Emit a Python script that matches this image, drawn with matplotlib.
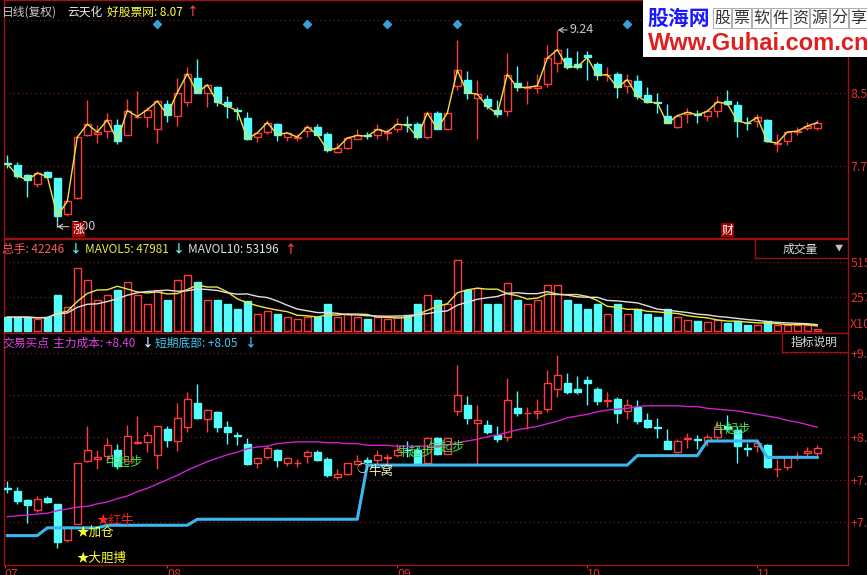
import matplotlib
matplotlib.use('Agg')
import matplotlib.pyplot as plt
from matplotlib.patches import Rectangle
import numpy as np
import pandas as pd

plt.rcParams['font.family'] = ['Noto Sans CJK SC', 'DejaVu Sans']

# daily bars (82 trading days, Jul - Nov)
opens = [7.69, 7.66, 7.55, 7.44, 7.58, 7.51, 7.09, 7.28, 8.01, 8.03,
         8.06, 8.13, 8.01, 8.22, 8.23, 8.08, 8.38, 8.24, 8.40, 8.68,
         8.50, 8.58, 8.40, 8.31, 8.21, 7.99, 8.05, 8.14, 7.99, 7.98,
         8.06, 8.11, 8.03, 7.82, 7.86, 7.97, 8.02, 8.02, 8.04, 8.08,
         8.14, 8.14, 7.99, 8.27, 8.09, 8.59, 8.66, 8.45, 8.43, 8.31,
         8.29, 8.62, 8.56, 8.56, 8.61, 8.85, 8.91, 8.84, 8.95, 8.84,
         8.71, 8.73, 8.59, 8.64, 8.48, 8.40, 8.24, 8.11, 8.26, 8.26,
         8.24, 8.29, 8.41, 8.37, 8.16, 8.18, 8.19, 7.91, 7.94, 8.05,
         8.10, 8.10]
highs = [7.78, 7.70, 7.56, 7.60, 7.60, 7.51, 7.24, 7.99, 8.42, 8.13,
         8.27, 8.20, 8.43, 8.53, 8.34, 8.42, 8.42, 8.68, 8.81, 8.90,
         8.61, 8.59, 8.47, 8.34, 8.28, 8.05, 8.19, 8.15, 8.05, 8.03,
         8.13, 8.14, 8.05, 7.92, 7.99, 8.08, 8.05, 8.14, 8.09, 8.21,
         8.24, 8.17, 8.29, 8.29, 8.27, 9.12, 8.76, 8.66, 8.48, 8.42,
         8.97, 8.82, 8.64, 8.73, 9.06, 9.24, 9.03, 9.00, 9.00, 8.87,
         8.81, 8.75, 8.73, 8.72, 8.57, 8.51, 8.38, 8.26, 8.33, 8.31,
         8.32, 8.47, 8.54, 8.41, 8.22, 8.26, 8.20, 8.03, 8.06, 8.11,
         8.17, 8.19]
lows = [7.63, 7.51, 7.29, 7.41, 7.52, 7.00, 7.07, 7.27, 8.00, 7.92,
        7.98, 7.91, 8.01, 8.21, 8.11, 7.92, 8.17, 8.12, 8.35, 8.50,
        8.34, 8.35, 8.21, 8.19, 7.96, 7.93, 8.03, 7.94, 7.95, 7.94,
        7.99, 8.01, 7.82, 7.80, 7.85, 7.97, 7.97, 7.97, 7.96, 8.05,
        8.05, 7.97, 7.97, 8.08, 8.09, 8.54, 8.44, 7.97, 8.32, 8.23,
        8.24, 8.53, 8.38, 8.50, 8.58, 8.75, 8.79, 8.79, 8.66, 8.66,
        8.64, 8.45, 8.50, 8.44, 8.39, 8.27, 8.15, 8.10, 8.16, 8.15,
        8.18, 8.23, 8.36, 7.99, 8.07, 8.11, 7.93, 7.82, 7.90, 8.02,
        8.07, 8.07]
closes = [7.68, 7.54, 7.49, 7.57, 7.53, 7.07, 7.24, 7.99, 8.14, 8.05,
          8.19, 7.95, 8.30, 8.23, 8.31, 8.41, 8.25, 8.51, 8.73, 8.51,
          8.60, 8.40, 8.35, 8.30, 7.97, 8.04, 8.16, 8.02, 8.04, 7.99,
          8.11, 8.02, 7.84, 7.86, 7.98, 8.01, 8.00, 8.08, 8.05, 8.14,
          8.13, 7.99, 8.27, 8.09, 8.27, 8.77, 8.51, 8.49, 8.35, 8.26,
          8.72, 8.57, 8.57, 8.59, 8.91, 9.01, 8.81, 8.81, 8.92, 8.71,
          8.72, 8.57, 8.66, 8.47, 8.40, 8.39, 8.15, 8.24, 8.28, 8.25,
          8.29, 8.40, 8.38, 8.18, 8.15, 8.22, 7.94, 7.92, 8.05, 8.06,
          8.12, 8.16]
volumes = [103000, 103000, 103000, 88000, 103000, 265000, 177000, 471000, 383000, 235000,
           272000, 309000, 368000, 272000, 199000, 309000, 235000, 383000, 420000, 368000,
           235000, 235000, 199000, 162000, 221000, 125000, 147000, 125000, 103000, 88000,
           103000, 103000, 199000, 103000, 125000, 103000, 88000, 103000, 88000, 103000,
           118000, 199000, 265000, 235000, 199000, 530000, 309000, 324000, 199000, 199000,
           360000, 235000, 199000, 235000, 346000, 346000, 235000, 199000, 162000, 199000,
           125000, 199000, 125000, 162000, 125000, 103000, 162000, 103000, 80000, 75000,
           70000, 85000, 60000, 75000, 42000, 42000, 72000, 42000, 42000, 42000,
           42000, 17000]
# 主力成本 (magenta) and 短期底部 (blue step) indicator lines
main_cost = [7.36, 7.37, 7.38, 7.39, 7.40, 7.43, 7.45, 7.47, 7.48, 7.51,
             7.53, 7.57, 7.60, 7.65, 7.69, 7.74, 7.79, 7.84, 7.90, 7.95,
             8.00, 8.04, 8.08, 8.11, 8.15, 8.17, 8.18, 8.21, 8.22, 8.23,
             8.23, 8.23, 8.22, 8.22, 8.21, 8.21, 8.19, 8.19, 8.19, 8.18,
             8.18, 8.18, 8.18, 8.18, 8.19, 8.22, 8.24, 8.26, 8.29, 8.31,
             8.34, 8.37, 8.39, 8.41, 8.44, 8.47, 8.51, 8.53, 8.55, 8.58,
             8.60, 8.61, 8.62, 8.64, 8.65, 8.65, 8.65, 8.65, 8.64, 8.64,
             8.62, 8.61, 8.60, 8.59, 8.57, 8.55, 8.53, 8.51, 8.48, 8.46,
             8.43, 8.40]
short_bottom = [7.14, 7.14, 7.14, 7.14, 7.23, 7.23, 7.23, 7.23, 7.23, 7.23,
                7.26, 7.26, 7.26, 7.26, 7.26, 7.26, 7.26, 7.26, 7.26, 7.33,
                7.33, 7.33, 7.33, 7.33, 7.33, 7.33, 7.33, 7.33, 7.33, 7.33,
                7.33, 7.33, 7.33, 7.33, 7.33, 7.33, 7.96, 7.96, 7.96, 7.96,
                7.96, 7.96, 7.96, 7.96, 7.96, 7.96, 7.96, 7.96, 7.96, 7.96,
                7.96, 7.96, 7.96, 7.96, 7.96, 7.96, 7.96, 7.96, 7.96, 7.96,
                7.96, 7.96, 7.96, 8.07, 8.07, 8.07, 8.07, 8.07, 8.07, 8.07,
                8.24, 8.24, 8.24, 8.24, 8.24, 8.24, 8.05, 8.05, 8.05, 8.05,
                8.05, 8.05]
month_labels = ['07', '08', '09', '10', '11']
month_first_bar = [0.75, 17, 40, 59, 76]
diamond_bars = [16, 31, 39, 46, 63]

W, H = 867, 575
BG = 'black'
RED = '#ff3c3c'
CYAN = '#54fcfc'
FRAME = '#a01010'
GRID = '#8c1c1c'
ARROW = dict(arrowstyle='->,head_length=0.35,head_width=0.2', color='#c8c8c8', lw=0.8,
             shrinkA=0, shrinkB=0)

n = len(closes)
x = np.arange(1, n + 1)
up = np.array(closes) > np.array(opens)
tops = np.maximum(opens, closes)
bots = np.minimum(opens, closes)
edge_cols = [RED if u else CYAN for u in up]
face_cols = [BG if u else CYAN for u in up]

fig = plt.figure(figsize=(W / 100, H / 100), dpi=100, facecolor=BG)


def px_axes(top, bottom):
    return fig.add_axes([4 / W, 1 - bottom / H, 844 / W, (bottom - top) / H])


def ftext(px, py, s, **kw):
    kw.setdefault('fontsize', 8.5)
    fig.text(px / W, 1 - py / H, s, va='center', **kw)


def style(ax, ticks, labels, ylim):
    ax.set_facecolor(BG)
    ax.set_xlim(0.67, 85.07)
    ax.set_ylim(*ylim)
    for s in ax.spines.values():
        s.set_color(FRAME)
        s.set_linewidth(1)
    ax.set_yticks(ticks)
    ax.set_yticklabels(labels)
    ax.yaxis.tick_right()
    ax.tick_params(axis='y', length=0, pad=2, labelcolor='#e83030', labelsize=9)
    ax.set_xticks([])
    for t in ticks:
        ax.axhline(t, color=GRID, lw=0.8, ls=(0, (1, 3)), zorder=0)


def draw_candles(ax):
    ax.vlines(x, tops, highs, colors=edge_cols, lw=1, zorder=2)
    ax.vlines(x, lows, bots, colors=edge_cols, lw=1, zorder=2)
    ax.bar(x, np.maximum(tops - bots, 0.004), bottom=bots, width=0.7,
           color=face_cols, edgecolor=edge_cols, linewidth=1, zorder=3)


# ---- price panel
ax1 = px_axes(0, 238)
style(ax1, [9.351, 8.505, 7.653], ['', '8.53', '7.70'], (6.813, 9.59))
draw_candles(ax1)
ax1.plot(x, closes, color='#f0e040', lw=1, zorder=4)
ax1.plot(diamond_bars, [9.31] * len(diamond_bars), 'D', color='#3aa0d8', ms=4.5, zorder=5)

imax = int(np.argmax(highs))
ax1.annotate(f'{highs[imax]:.2f}', xy=(x[imax] + 0.05, highs[imax]), xytext=(x[imax] + 1.25, highs[imax]),
             color='#c8c8c8', fontsize=9, va='center', ha='left', arrowprops=ARROW)
imin = int(np.argmin(lows))
ax1.vlines(x[imin], 6.945, lows[imin], color='#c8c8c8', lw=1)
ax1.annotate(f'{lows[imin]:.2f}', xy=(x[imin], 6.945), xytext=(x[imin] + 1.45, 6.945),
             color='#c8c8c8', fontsize=9, va='center', ha='left', arrowprops=ARROW)
ax1.text(8.1, 6.91, '涨', color='white', fontsize=8.5, ha='center', va='center', zorder=6,
         bbox=dict(facecolor='#a00000', edgecolor='none', pad=0.6))
ax1.text(73.0, 6.906, '财', color='white', fontsize=8.5, ha='center', va='center', zorder=6,
         bbox=dict(facecolor='#a00000', edgecolor='none', pad=0.6))

# ---- volume panel
ax2 = px_axes(239, 333)
style(ax2, [515000, 257500], ['51500', '25750'], (-14928, 686688))
ax2.bar(x, volumes, width=0.7, color=face_cols, edgecolor=edge_cols, linewidth=1, zorder=3)
vol = pd.Series(volumes)
ax2.plot(x, vol.rolling(5, min_periods=1).mean(), color='#e8e840', lw=1, zorder=4)
ax2.plot(x, vol.rolling(10, min_periods=1).mean(), color='#e0e0e0', lw=1, zorder=4)

# ---- indicator panel
ax3 = px_axes(333, 565)
style(ax3, [9.263, 8.775, 8.287, 7.787, 7.298], ['+9.26', '+8.78', '+8.29', '+7.79', '+7.30'],
      (6.798, 9.496))
draw_candles(ax3)
ax3.plot(x, main_cost, color='#d020d0', lw=1, zorder=4)
ax3.plot(x, short_bottom, color='#38b8f0', lw=2.2, zorder=4)
ax3.set_xticks(month_first_bar)
ax3.set_xticklabels(month_labels)
ax3.tick_params(axis='x', colors='#e03030', length=2, pad=0, labelsize=9)
for lbl in ax3.get_xticklabels():
    lbl.set_ha('left')

for px, py in [(12.7, 8.00), (41.8, 8.11), (44.9, 8.17), (73.5, 8.38)]:
    ax3.text(px, py, '牛起步', color='#48e048', fontsize=9, ha='center', va='center', zorder=6)
ax3.text(36.5, 7.91, '○', color='#f0f0c0', fontsize=8, ha='center', va='center', zorder=6)
ax3.text(37.1, 7.89, '牛窝', color='#f0f0c0', fontsize=9, ha='left', va='center', zorder=6)
ax3.text(9.9, 7.32, '★红牛', color='#ff2020', fontsize=9, ha='left', va='center', zorder=6)
ax3.text(7.9, 7.18, '★加仓', color='#ffff30', fontsize=9, ha='left', va='center', zorder=6)
ax3.text(7.9, 6.87, '★大胆搏', color='#ffff30', fontsize=9, ha='left', va='center', zorder=6)

# ---- headers
ftext(2, 12, '日线(复权)', color='#c8c8c8')
ftext(67, 12, '云天化', color='#e8e8e8')
ftext(107, 12, '好股票网: 8.07', color='#ffff40')
ftext(187, 12, '↑', color=RED, fontweight='bold')

ftext(2, 249, '总手: 42246', color='#ff5a5a')
ftext(70, 249, '↓', color=CYAN, fontweight='bold')
ftext(85, 249, 'MAVOL5: 47981', color='#e8e840')
ftext(173, 249, '↓', color=CYAN, fontweight='bold')
ftext(188, 249, 'MAVOL10: 53196', color='#e0e0e0')
ftext(285, 249, '↑', color=RED, fontweight='bold')
ftext(850, 325, 'X10', color='#e83030', fontsize=9)

ftext(2, 343, '交易买点', color='#e040e0')
ftext(53, 343, '主力成本: +8.40', color='#e040e0')
ftext(142, 343, '↓', color='#c0f0ff', fontweight='bold')
ftext(155, 343, '短期底部: +8.05', color='#40c8f0')
ftext(245, 343, '↓', color='#40c8f0', fontweight='bold')

# panel buttons
fig.add_artist(plt.Line2D([755 / W, 755 / W], [1 - 239 / H, 1 - 258 / H], color=FRAME, lw=1))
fig.add_artist(plt.Line2D([755 / W, 848 / W], [1 - 258 / H, 1 - 258 / H], color=FRAME, lw=1))
ftext(800, 249, '成交量', color='#d8d8d8', ha='center')
ftext(839, 248, '▼', color='#c0c0c0', ha='center', fontsize=6)
fig.add_artist(plt.Line2D([782 / W, 782 / W], [1 - 333 / H, 1 - 352 / H], color=FRAME, lw=1))
fig.add_artist(plt.Line2D([782 / W, 848 / W], [1 - 352 / H, 1 - 352 / H], color=FRAME, lw=1))
ftext(814, 342, '指标说明', color='#d8d8d8', ha='center')

# watermark box
fig.add_artist(Rectangle((643 / W, 1 - 57 / H), 224 / W, 57 / H, transform=fig.transFigure,
                         facecolor='white', edgecolor='none', zorder=10))
fig.text(648 / W, 1 - 18 / H, '股海网', color='#1a1aff', fontsize=15, fontweight='bold',
         va='center', zorder=11)
for k, ch in enumerate('股票软件资源分享'):
    fig.text((722 + k * 19.5) / W, 1 - 18 / H, ch, color='#303030', fontsize=11.5,
             ha='center', va='center', zorder=11,
             bbox=dict(facecolor='white', edgecolor='#a0a0a0', pad=0.8, lw=0.6))
fig.text(648 / W, 1 - 43 / H, 'Www.Guhai.com.cn', color='#e02020', fontsize=17,
         fontweight='bold', family='Liberation Sans', va='center', zorder=11)

fig.savefig('out.png', dpi=100, facecolor=BG)
